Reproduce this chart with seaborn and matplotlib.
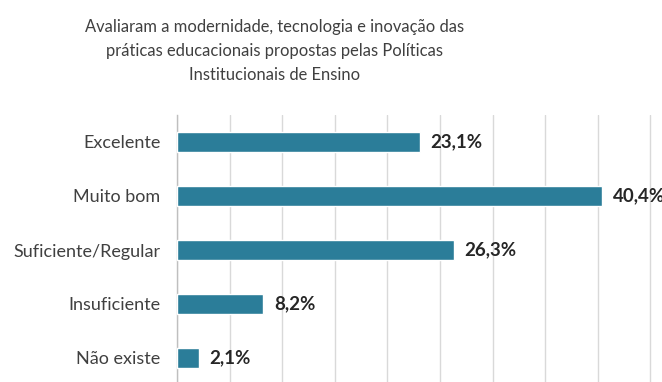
import matplotlib
matplotlib.use("Agg")
import matplotlib.pyplot as plt
import seaborn as sns
import pandas as pd
from matplotlib.ticker import MultipleLocator, FixedLocator

categorias = ["Excelente", "Muito bom", "Suficiente/Regular", "Insuficiente", "Não existe"]
percentuais = [23.1, 40.4, 26.3, 8.2, 2.1]
rotulos = ["23,1%", "40,4%", "26,3%", "8,2%", "2,1%"]
titulo = ("Avaliaram a modernidade, tecnologia e inovação das\n"
          "práticas educacionais propostas pelas Políticas\n"
          "Institucionais de Ensino")

df = pd.DataFrame({"categoria": categorias, "valor": percentuais})

sns.set_style("white")
plt.rcParams["font.family"] = ["Lato", "DejaVu Sans"]

W, H = 662, 382
fig = plt.figure(figsize=(W / 100, H / 100), dpi=100)
ax = fig.add_axes([177 / W, -3 / H, (W - 177) / W, 270 / H])

sns.barplot(data=df, x="valor", y="categoria", orient="h", color="#2B7D99",
            saturation=1, width=0.38, ax=ax, zorder=3)

ax.set_xlim(0, 46.1)
ax.set_ylim(4.5, -0.5)
ax.xaxis.set_major_locator(MultipleLocator(5))
ax.grid(axis="x", color="#d9d9d9", linewidth=1, zorder=0)
ax.tick_params(axis="x", length=0, labelbottom=False)

# category boundary ticks (major) and centred labels (minor)
ax.yaxis.set_major_locator(FixedLocator([-0.5, 0.5, 1.5, 2.5, 3.5, 4.5]))
ax.yaxis.set_major_formatter(plt.NullFormatter())
ax.yaxis.set_minor_locator(FixedLocator(range(len(categorias))))
ax.set_yticklabels(categorias, minor=True)
ax.tick_params(axis="y", which="major", length=5, width=1, color="#bfbfbf")
ax.tick_params(axis="y", which="minor", length=0, pad=12, labelsize=13, labelcolor="#404040")
ax.set_xlabel("")
ax.set_ylabel("")

for s in ["top", "right", "bottom"]:
    ax.spines[s].set_visible(False)
ax.spines["left"].set_color("#bfbfbf")
ax.spines["left"].set_linewidth(1)

for i, (v, t) in enumerate(zip(percentuais, rotulos)):
    ax.text(v + 1.0, i, t, va="center", ha="left", fontsize=13.5,
            fontweight="bold", color="#262626")

fig.text(275 / W, 1 - 51 / H, titulo, ha="center", va="center",
         fontsize=11.9, color="#404040", linespacing=1.6)

fig.savefig("out.png", dpi=100)
